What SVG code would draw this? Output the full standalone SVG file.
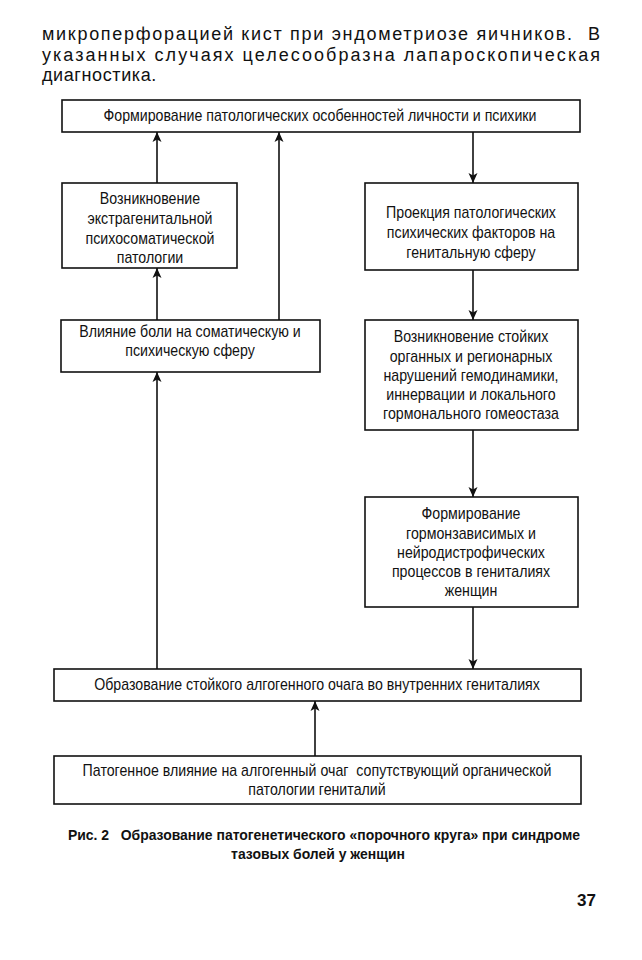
<svg xmlns="http://www.w3.org/2000/svg" width="642" height="960" viewBox="0 0 642 960">
<defs>
<marker id="ah" viewBox="0 0 10 10" refX="10" refY="5" markerWidth="11" markerHeight="10" markerUnits="userSpaceOnUse" orient="auto">
<path d="M0,0.5 L10,5 L0,9.5 L2.5,5 Z" fill="#111"/>
</marker>
<style>
.bx{fill:#fff;stroke:#111;stroke-width:1.6}
.t{font-family:"Liberation Sans",Arial,sans-serif;font-size:16.4px;fill:#111;text-anchor:middle;transform-box:fill-box;transform-origin:center;transform:scaleX(0.865)}
.p{font-family:"Liberation Sans",Arial,sans-serif;font-size:18px;fill:#111}
.c{font-family:"Liberation Sans",Arial,sans-serif;font-size:15.5px;font-weight:bold;fill:#111;text-anchor:middle;transform-box:fill-box;transform-origin:center;transform:scaleX(0.9)}
.ar{fill:none;stroke:#111;stroke-width:1.6;marker-end:url(#ah)}
</style>
</defs>
<rect width="642" height="960" fill="#fff"/>
<g id="para">
<text class="p" x="42" y="40" textLength="530" lengthAdjust="spacing">микроперфорацией кист при эндометриозе яичников.</text>
<text class="p" x="600" y="40" text-anchor="end">В</text>
<text class="p" x="42" y="61" textLength="558" lengthAdjust="spacing">указанных случаях целесообразна лапароскопическая</text>
<text class="p" x="42" y="81" letter-spacing="0.6">диагностика.</text>
</g>
<g id="connectors">
<path class="ar" d="M157,183 V132"/>
<path class="ar" d="M157,320 V268"/>
<path class="ar" d="M279,320 V132"/>
<path class="ar" d="M473,132 V183"/>
<path class="ar" d="M473,270 V320"/>
<path class="ar" d="M473,430 V497"/>
<path class="ar" d="M473,607 V669"/>
<path class="ar" d="M157,669 V372"/>
<path class="ar" d="M315,756 V701"/>
</g>
<g id="n-top">
<rect class="bx" x="62" y="100" width="518" height="32"/>
<text class="t" x="320" y="121">Формирование патологических особенностей личности и психики</text>
</g>
<g id="n-extragen">
<rect class="bx" x="62" y="183" width="175" height="85"/>
<text class="t" x="150" y="204">Возникновение</text>
<text class="t" x="150" y="224">экстрагенитальной</text>
<text class="t" x="150" y="244">психосоматической</text>
<text class="t" x="150" y="263">патологии</text>
</g>
<g id="n-projection">
<rect class="bx" x="365" y="183" width="213" height="87"/>
<text class="t" x="471" y="218">Проекция патологических</text>
<text class="t" x="471" y="238">психических факторов на</text>
<text class="t" x="471" y="258">генитальную сферу</text>
</g>
<g id="n-pain">
<rect class="bx" x="61" y="320" width="259" height="52"/>
<text class="t" x="190" y="337">Влияние боли на соматическую и</text>
<text class="t" x="190" y="356">психическую сферу</text>
</g>
<g id="n-hemodyn">
<rect class="bx" x="365" y="320" width="213" height="110"/>
<text class="t" x="471" y="342">Возникновение стойких</text>
<text class="t" x="471" y="362">органных и регионарных</text>
<text class="t" x="471" y="381">нарушений гемодинамики,</text>
<text class="t" x="471" y="400">иннервации и локального</text>
<text class="t" x="471" y="419">гормонального гомеостаза</text>
</g>
<g id="n-hormone">
<rect class="bx" x="365" y="497" width="213" height="110"/>
<text class="t" x="471" y="519">Формирование</text>
<text class="t" x="471" y="539">гормонзависимых и</text>
<text class="t" x="471" y="558">нейродистрофических</text>
<text class="t" x="471" y="577">процессов в гениталиях</text>
<text class="t" x="471" y="596">женщин</text>
</g>
<g id="n-focus">
<rect class="bx" x="54" y="669" width="527" height="32"/>
<text class="t" x="317" y="690">Образование стойкого алгогенного очага во внутренних гениталиях</text>
</g>
<g id="n-comorbid">
<rect class="bx" x="54" y="756" width="527" height="48"/>
<text class="t" x="317" y="776" xml:space="preserve">Патогенное влияние на алгогенный очаг  сопутствующий органической</text>
<text class="t" x="317" y="795">патологии гениталий</text>
</g>
<g id="caption">
<text class="c" x="324" y="840" xml:space="preserve">Рис. 2   Образование патогенетического «порочного круга» при синдроме</text>
<text class="c" x="318" y="859">тазовых болей у женщин</text>
<text class="p" x="596" y="906" text-anchor="end" style="font-size:17px;font-weight:bold">37</text>
</g>
</svg>
